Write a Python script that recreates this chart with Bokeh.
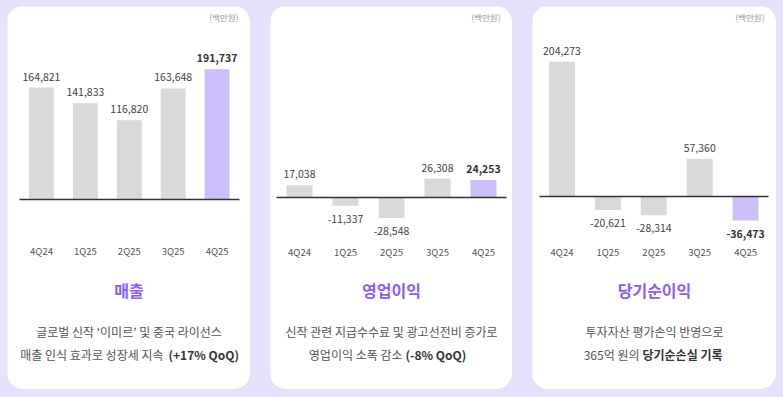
from bokeh.plotting import figure
from bokeh.models import ColumnDataSource, LabelSet, Label, LinearAxis, FixedTicker, Range1d
from bokeh.layouts import row
from bokeh.core.properties import value
from bokeh.embed import file_html
from bokeh.resources import INLINE

# ---------------- data ----------------
quarters = ["4Q24", "1Q25", "2Q25", "3Q25", "4Q25"]
revenue = [164821, 141833, 116820, 163648, 191737]
op_income = [17038, -11337, -28548, 26308, 24253]
net_income = [204273, -20621, -28314, 57360, -36473]
unit_label = "(백만원)"
titles = ["매출", "영업이익", "당기순이익"]
desc_line1 = ["글로벌 신작 ‘이미르’ 및 중국 라이선스",
              "신작 관련 지급수수료 및 광고선전비 증가로",
              "투자자산 평가손익 반영으로"]
desc_line2_regular = ["매출 인식 효과로 성장세 지속", "영업이익 소폭 감소", "365억 원의"]
desc_line2_bold = ["(+17% QoQ)", "(-8% QoQ)", "당기순손실 기록"]

# ---------------- style ----------------
H = 383
FONT = "Noto Sans CJK KR"
BG = "#E8E1FB"
GRAY_BAR = "#D9D9D9"
HILITE_BAR = "#CBBEF9"
PURPLE = "#8B5CF6"

# per-card geometry: width, first bar centre (px), bar step (px), baseline from top (px),
# px per unit, axis-label standoff, split of mixed second line (regular right edge, bold left edge)
cfg = [
    dict(w=243, first=34, step=43.9, base=193, scale=0.000679, standoff=44, split=(156, 161)),
    dict(w=242, first=29, step=46.0, base=191, scale=0.00072, standoff=47, split=(132, 135)),
    dict(w=244, first=29.5, step=45.9, base=190, scale=0.00066, standoff=48, split=(107, 110)),
]


def make_card(values, i):
    c = cfg[i]
    W = c["w"]
    x0 = -c["first"] / c["step"]
    x1 = (W - c["first"]) / c["step"]
    y1 = c["base"] / c["scale"]
    y0 = -(H - c["base"]) / c["scale"]
    p = figure(width=W, height=H, x_range=Range1d(x0, x1), y_range=Range1d(y0, y1),
               x_axis_type=None, y_axis_type=None, toolbar_location=None,
               output_backend="svg", min_border=0, outline_line_color=None,
               background_fill_color="white", border_fill_color="white",
               styles={"border-radius": "16px", "overflow": "hidden"})
    xs = list(range(len(quarters)))
    n = len(quarters)
    colors = [GRAY_BAR] * (n - 1) + [HILITE_BAR]
    src = ColumnDataSource(dict(x=xs, top=values, color=colors))
    p.vbar(x="x", top="top", bottom=0, width=0.565, fill_color="color", line_color=None, source=src)

    def lab_src(idx):
        return ColumnDataSource(dict(
            x=[xs[k] for k in idx],
            y=[values[k] for k in idx],
            label=[f"{values[k]:,}" for k in idx],
            yoff=[11 if values[k] >= 0 else -13 for k in idx]))

    reg = LabelSet(x="x", y="y", text="label", y_offset="yoff", source=lab_src(range(n - 1)),
                   text_align="center", text_baseline="middle",
                   text_font=value(FONT), text_font_size="10.5px", text_color="#444444")
    hi = LabelSet(x="x", y="y", text="label", y_offset="yoff", source=lab_src([n - 1]),
                  text_align="center", text_baseline="middle",
                  text_font=value(FONT), text_font_size="10.5px", text_font_style=value("bold"),
                  text_color="#333333")
    p.add_layout(reg)
    p.add_layout(hi)

    ax = LinearAxis(fixed_location=0, ticker=FixedTicker(ticks=xs),
                    major_label_overrides={k: q for k, q in enumerate(quarters)},
                    bounds=(-0.5, n - 0.5),
                    axis_line_color="#333333", axis_line_width=1.5,
                    major_tick_line_color=None, minor_tick_line_color=None,
                    major_tick_out=0, major_tick_in=0, major_label_standoff=c["standoff"],
                    major_label_text_font=FONT, major_label_text_font_size="9.5px",
                    major_label_text_color="#555555")
    p.add_layout(ax, "below")

    def sl(text, x, ytop, align, size, color, style="normal"):
        p.add_layout(Label(x=x, y=H - ytop, x_units="screen", y_units="screen", text=text,
                           text_align=align, text_baseline="middle", text_font=FONT,
                           text_font_size=size, text_color=color, text_font_style=style))

    sl(unit_label, W - 12, 10, "right", "8.5px", "#9A9A9A")
    sl(titles[i], W / 2, 283, "center", "16px", PURPLE, "bold")
    sl(desc_line1[i], W / 2, 325, "center", "12px", "#555555")
    sl(desc_line2_regular[i], c["split"][0], 348, "right", "12px", "#555555")
    sl(desc_line2_bold[i], c["split"][1], 348, "left", "12px", "#333333", "bold")
    return p


cards = [make_card(revenue, 0), make_card(op_income, 1), make_card(net_income, 2)]
layout = row(*cards, spacing=20, margin=(6, 0, 0, 7))

html = file_html(layout, INLINE)
html = html.replace("</head>", "<style>html,body{background-color:%s;}</style></head>" % BG, 1)
open("out.html", "w").write(html)
